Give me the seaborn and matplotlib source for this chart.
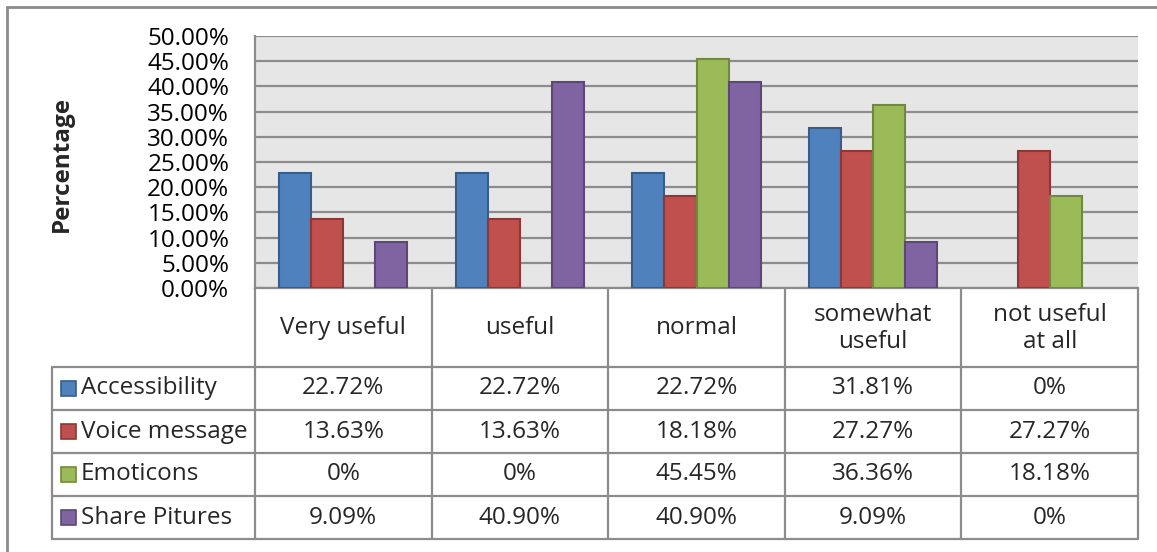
import matplotlib
matplotlib.use("Agg")
import matplotlib.pyplot as plt
import seaborn as sns
import pandas as pd
from matplotlib.ticker import FuncFormatter, MultipleLocator
from matplotlib.patches import Rectangle
from matplotlib.lines import Line2D

categories = ["Very useful", "useful", "normal", "somewhat\nuseful", "not useful\nat all"]
series = ["Accessibility", "Voice message", "Emoticons", "Share Pitures"]
accessibility = [22.72, 22.72, 22.72, 31.81, 0]
voice_message = [13.63, 13.63, 18.18, 27.27, 27.27]
emoticons = [0, 0, 45.45, 36.36, 18.18]
share_pictures = [9.09, 40.90, 40.90, 9.09, 0]
cell_text = [
    ["22.72%", "22.72%", "22.72%", "31.81%", "0%"],
    ["13.63%", "13.63%", "18.18%", "27.27%", "27.27%"],
    ["0%", "0%", "45.45%", "36.36%", "18.18%"],
    ["9.09%", "40.90%", "40.90%", "9.09%", "0%"],
]
y_label = "Percentage"

colors = ["#4F81BD", "#C0504D", "#9BBB59", "#8064A2"]
edges = ["#385D8A", "#8C3836", "#71893F", "#5C4776"]

sns.set_theme(style="white")
FONT = ["Open Sans", "DejaVu Sans"]
plt.rcParams["font.family"] = FONT
FS = 17.5

W, H = 1157, 552
fig = plt.figure(figsize=(W / 100, H / 100), dpi=100)

# pixel layout
px_left, px_right, px_top, px_bottom = 255, 1138, 36, 288
ax = fig.add_axes([px_left / W, 1 - px_bottom / H, (px_right - px_left) / W, (px_bottom - px_top) / H])

rows = []
for s, vals in zip(series, [accessibility, voice_message, emoticons, share_pictures]):
    for c, v in zip(categories, vals):
        rows.append({"category": c, "series": s, "value": v})
df = pd.DataFrame(rows)

sns.barplot(data=df, x="category", y="value", hue="series", order=categories,
            hue_order=series, palette=colors, width=0.725, ax=ax, legend=False,
            saturation=1, linewidth=1.5)
for cont, ec in zip(ax.containers, edges):
    for p in cont:
        p.set_edgecolor(ec)
        p.set_zorder(3)
        if p.get_height() == 0:
            p.set_visible(False)

ax.set_facecolor("#E6E6E6")
ax.set_xlim(-0.5, len(categories) - 0.5)
ax.set_ylim(0, 50)
ax.yaxis.set_major_locator(MultipleLocator(5))
ax.yaxis.set_major_formatter(FuncFormatter(lambda v, p: f"{v:.2f}%"))
ax.grid(axis="y", color="#8C8C8C", linewidth=1.6)
ax.set_axisbelow(True)
ax.set_xticks([])
ax.set_xlabel("")
ax.set_ylabel("")
ax.tick_params(axis="y", length=0, pad=18.5, labelsize=FS, labelcolor="black")
for lab in ax.get_yticklabels():
    lab.set_fontfamily(FONT)
for side in ["top", "right"]:
    ax.spines[side].set_visible(False)
ax.spines["left"].set_color("#8C8C8C")
ax.spines["left"].set_linewidth(1.6)
ax.spines["bottom"].set_color("#8C8C8C")
ax.spines["bottom"].set_linewidth(1.6)

fig.text(62 / W, 1 - 164 / H, y_label, rotation=90, ha="center", va="center",
         fontsize=FS, fontweight="bold", family=FONT)

# overlay for table and frame
ov = fig.add_axes([0, 0, 1, 1], zorder=-1)
ov.set_xlim(0, W)
ov.set_ylim(H, 0)
ov.axis("off")
ov.patch.set_alpha(0)

lc = "#8C8C8C"
lw = 1.6
ncol = len(categories)
cw = (px_right - px_left) / ncol
col_x = [px_left + i * cw for i in range(ncol + 1)]
leg_left = 52
row_y = [367, 410, 453, 496, 539]

for x in col_x:
    ov.add_line(Line2D([x, x], [px_bottom, row_y[-1]], color=lc, lw=lw))
ov.add_line(Line2D([leg_left, leg_left], [row_y[0], row_y[-1]], color=lc, lw=lw))
for y in row_y:
    ov.add_line(Line2D([leg_left, px_right], [y, y], color=lc, lw=lw))

for i, c in enumerate(categories):
    ov.text((col_x[i] + col_x[i + 1]) / 2, (px_bottom + row_y[0]) / 2 + 1, c,
            ha="center", va="center", fontsize=FS, linespacing=1.2, family=FONT)

for r, s in enumerate(series):
    yc = (row_y[r] + row_y[r + 1]) / 2
    ov.add_patch(Rectangle((61, yc - 7.5), 15, 15, facecolor=colors[r],
                           edgecolor=edges[r], lw=1.2))
    ov.text(81, yc, s, ha="left", va="center", fontsize=FS, family=FONT)
    for i in range(ncol):
        ov.text((col_x[i] + col_x[i + 1]) / 2, yc, cell_text[r][i],
                ha="center", va="center", fontsize=FS, family=FONT)

ov.add_line(Line2D([7, 7], [7, H], color="#8C8C8C", lw=2))
ov.add_line(Line2D([7, W], [7, 7], color="#8C8C8C", lw=2))

fig.savefig("out.png", dpi=100, facecolor="white")
